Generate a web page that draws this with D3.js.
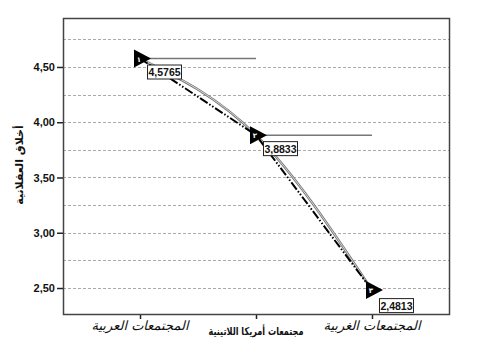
<!DOCTYPE html>
<html>
<head>
<meta charset="utf-8">
<script src="https://cdn.jsdelivr.net/npm/d3@7"></script>
<style>
  body { margin: 0; background: #fff; }
  text { font-family: "DejaVu Sans", Arial, sans-serif; }
</style>
</head>
<body>
<svg width="479" height="363"></svg>
<script>
// données
let categories = ["المجتمعات العربية", "مجتمعات أمريكا اللاتينية", "المجتمعات الغربية"];
let valeurs = [4.5765, 3.8833, 2.4813];
let etiquettes = ["4,5765", "3,8833", "2,4813"];
let marqueurs = ["١", "٢", "٣"];
let ticksY = [2.5, 3.0, 3.5, 4.0, 4.5];
let grilleY = [2.5, 2.75, 3.0, 3.25, 3.5, 3.75, 4.0, 4.25, 4.5, 4.75];
let titreY = "أخلاق العقلانية";

let svg = d3.select("svg");

let gauche = 63, droite = 449, haut = 18, bas = 314;

let x = d3.scalePoint()
    .domain(categories)
    .range([gauche, droite])
    .padding(0.664);

let y = d3.scaleLinear()
    .domain([2.265, 4.943])
    .range([bas, haut]);

let points = categories.map((c, i) => ({ c: c, v: valeurs[i], lab: etiquettes[i], m: marqueurs[i] }));

// grille
svg.append("g").selectAll("line")
    .data(grilleY)
    .enter()
    .append("line")
    .attr("x1", gauche)
    .attr("x2", droite)
    .attr("y1", d => Math.round(y(d)) + 0.5)
    .attr("y2", d => Math.round(y(d)) + 0.5)
    .attr("stroke", "#aaa")
    .attr("stroke-width", 1)
    .attr("stroke-dasharray", "3,2");

// axe Y
let axeY = svg.append("g")
    .attr("transform", "translate(" + gauche + ",0)")
    .call(d3.axisLeft(y).tickValues(ticksY).tickSize(6).tickFormat(d => d3.format(".2f")(d).replace(".", ",")));
axeY.select(".domain").remove();
axeY.selectAll("line").attr("stroke", "#222").attr("stroke-width", 1.5);
axeY.selectAll("text")
    .attr("x", -8)
    .style("font-family", "Arial, 'Liberation Sans', sans-serif")
    .style("font-size", "11px")
    .style("font-weight", "bold")
    .attr("fill", "#111");

// axe X
let axeX = svg.append("g")
    .attr("transform", "translate(0," + bas + ")")
    .call(d3.axisBottom(x).tickSize(5).tickFormat(""));
axeX.select(".domain").remove();
axeX.selectAll("line").attr("stroke", "#222").attr("stroke-width", 1.5);

let labX = svg.append("g").selectAll("text")
    .data(categories)
    .enter()
    .append("text")
    .attr("x", d => x(d))
    .attr("y", (d, i) => i == 1 ? 335 : 330)
    .attr("text-anchor", "middle")
    .style("font-size", (d, i) => i == 1 ? "11px" : "13px")
    .style("font-weight", (d, i) => i == 1 ? "bold" : "normal")
    .style("font-style", (d, i) => i == 1 ? "normal" : "italic")
    .attr("fill", "#111")
    .text(d => d);

// le libellé du milieu est plus serré
labX.filter((d, i) => i == 1)
    .attr("textLength", 95)
    .attr("lengthAdjust", "spacingAndGlyphs");

// titre Y
svg.append("text")
    .attr("transform", "translate(23,165) rotate(-90)")
    .attr("text-anchor", "middle")
    .style("font-size", "11px")
    .style("font-weight", "bold")
    .attr("fill", "#111")
    .text(titreY);

// cadre
svg.append("rect")
    .attr("x", gauche + 0.5)
    .attr("y", haut + 0.5)
    .attr("width", droite - gauche)
    .attr("height", bas - haut)
    .attr("fill", "none")
    .attr("stroke", "#444")
    .attr("stroke-width", 1.5);

// lignes horizontales vers la catégorie suivante
svg.append("g").selectAll("line")
    .data(points.slice(0, points.length - 1))
    .enter()
    .append("line")
    .attr("x1", d => x(d.c))
    .attr("x2", (d, i) => x(categories[i + 1]))
    .attr("y1", d => y(d.v))
    .attr("y2", d => y(d.v))
    .attr("stroke", "#777")
    .attr("stroke-width", 1.5);

// courbe lisse
let courbe = d3.line()
    .x(d => x(d.c))
    .y(d => y(d.v))
    .curve(d3.curveNatural);

svg.append("path")
    .datum(points)
    .attr("d", courbe)
    .attr("fill", "none")
    .attr("stroke", "#777")
    .attr("stroke-width", 2.5);
svg.append("path")
    .datum(points)
    .attr("d", courbe)
    .attr("fill", "none")
    .attr("stroke", "#eee")
    .attr("stroke-width", 0.8);

// ligne pointillée
let droiteL = d3.line()
    .x(d => x(d.c))
    .y(d => y(d.v));

svg.append("path")
    .datum(points)
    .attr("d", droiteL)
    .attr("fill", "none")
    .attr("stroke", "#000")
    .attr("stroke-width", 2)
    .attr("stroke-dasharray", "9,2,1.5,2,1.5,2");

// marqueurs triangles
let marq = svg.append("g").selectAll("g")
    .data(points)
    .enter()
    .append("g")
    .attr("transform", d => "translate(" + x(d.c) + "," + y(d.v) + ")");

marq.append("path")
    .attr("d", "M-6,-9 L11,0 L-6,9 Z")
    .attr("fill", "#000");

marq.append("text")
    .attr("x", -1)
    .attr("y", 3)
    .attr("text-anchor", "middle")
    .style("font-size", "7px")
    .style("font-weight", "bold")
    .attr("fill", "#fff")
    .text(d => d.m);

// étiquettes de valeurs
let etiq = svg.append("g").selectAll("g")
    .data(points)
    .enter()
    .append("g")
    .attr("transform", (d, i) => "translate(" + (x(d.c) + 7) + "," + (y(d.v) + (i == 2 ? 8 : 6)) + ")");

etiq.append("rect")
    .attr("x", 0.5)
    .attr("y", 0.5)
    .attr("width", 34)
    .attr("height", 14)
    .attr("fill", "#fff")
    .attr("stroke", "#222")
    .attr("stroke-width", 1);

etiq.append("text")
    .attr("x", 17.5)
    .attr("y", 11.5)
    .attr("text-anchor", "middle")
    .style("font-family", "Arial, 'Liberation Sans', sans-serif")
    .style("font-size", "10.5px")
    .style("font-weight", "bold")
    .attr("fill", "#111")
    .text(d => d.lab);
</script>
</body>
</html>
